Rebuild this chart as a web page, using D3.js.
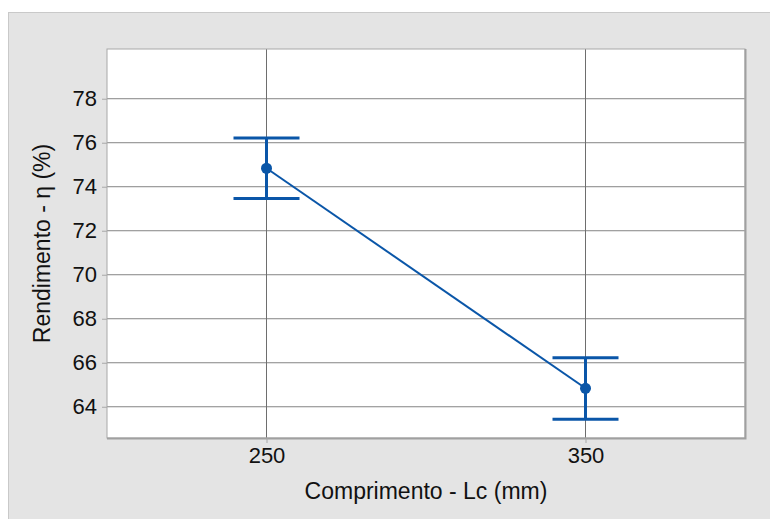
<html lang="en">
<head>
    <meta charset="UTF-8">
    <title>Rendimento x Comprimento</title>
    <script type="text/javascript" src="https://unpkg.com/d3@7/dist/d3.min.js"></script>
    <style>
        body{
            margin:0;
            padding:0;
            background:#fff;
        }
        text {
            font-family: "Liberation Sans", Arial, sans-serif;
            fill: #111;
        }
    </style>
</head>
<body>
<svg width=770 height=519></svg>

<script>

// values
var lengths = [250, 350]
var means = [74.84, 64.84]
var upper = [76.22, 66.23]
var lower = [73.46, 63.43]
var yTicks = [64, 66, 68, 70, 72, 74, 76, 78]

var blue = '#0a56a8'
var plotL = 107, plotR = 745, plotT = 49, plotB = 438

var svg = d3.select('svg')

// grey panel behind everything
svg.append('rect')
    .attr('x', 8.5).attr('y', 12.5)
    .attr('width', 800).attr('height', 600)
    .attr('fill', '#e4e4e4')
    .attr('stroke', '#c9c9c9')

svg.append('rect')
    .attr('x', plotL).attr('y', plotT)
    .attr('width', plotR - plotL).attr('height', plotB - plotT)
    .attr('fill', '#fff')

var x = d3.scaleLinear().domain([200, 400]).range([plotL, plotR])
var y = d3.scaleLinear().domain([62.58, 80.26]).range([plotB, plotT])

// grid
svg.append('g')
    .selectAll('line')
    .data(yTicks)
    .enter()
    .append('line')
    .attr('x1', plotL).attr('x2', plotR)
    .attr('y1', d => y(d)).attr('y2', d => y(d))
    .attr('stroke', '#858585')
svg.append('g')
    .selectAll('line')
    .data(lengths)
    .enter()
    .append('line')
    .attr('x1', d => x(d)).attr('x2', d => x(d))
    .attr('y1', plotT).attr('y2', plotB)
    .attr('stroke', '#6e6e6e')

// frame, right and bottom a bit heavier
svg.append('rect')
    .attr('x', plotL).attr('y', plotT)
    .attr('width', plotR - plotL).attr('height', plotB - plotT)
    .attr('fill', 'none')
    .attr('stroke', '#a8a8a8')
svg.append('path')
    .attr('d', `M${plotR + 0.5},${plotT} V${plotB + 0.5} H${plotL}`)
    .attr('fill', 'none')
    .attr('stroke', '#a0a0a0')
    .attr('stroke-width', 2)

// axes
var yAxis = svg.append('g')
    .attr('transform', `translate(${plotL},0)`)
    .call(d3.axisLeft(y).tickValues(yTicks).tickSize(5).tickPadding(5))
var xAxis = svg.append('g')
    .attr('transform', `translate(0,${plotB})`)
    .call(d3.axisBottom(x).tickValues(lengths).tickSize(5).tickPadding(4))

;[yAxis, xAxis].forEach(a => {
    a.select('.domain').remove()
    a.selectAll('line').attr('stroke', '#a8a8a8')
    a.selectAll('text').style('font-size', '22px').attr('fill', '#111')
})

svg.append('text')
    .attr('x', (plotL + plotR) / 2)
    .attr('y', 499)
    .style('font-size', '23px')
    .style('text-anchor', 'middle')
    .text('Comprimento - Lc (mm)')

svg.append('text')
    .attr('transform', `translate(50,${(plotT + plotB) / 2}) rotate(-90)`)
    .style('font-size', '23px')
    .style('text-anchor', 'middle')
    .text('Rendimento - η (%)')

// error bars
svg.append('g')
    .selectAll('g')
    .data(lengths)
    .enter()
    .append('g')
    .each(function (d, i) {
        var g = d3.select(this)
        g.append('line')
            .attr('x1', x(d)).attr('x2', x(d))
            .attr('y1', y(upper[i])).attr('y2', y(lower[i]))
            .attr('stroke', blue).attr('stroke-width', 3)
        ;[upper[i], lower[i]].forEach(v => {
            g.append('line')
                .attr('x1', x(d) - 33).attr('x2', x(d) + 33)
                .attr('y1', y(v)).attr('y2', y(v))
                .attr('stroke', blue).attr('stroke-width', 3)
        })
    })

var line = d3.line()
    .x((d, i) => x(lengths[i]))
    .y(d => y(d))

svg.append('path')
    .datum(means)
    .attr('d', line)
    .attr('fill', 'none')
    .attr('stroke', blue)
    .attr('stroke-width', 2)

svg.append('g')
    .selectAll('circle')
    .data(means)
    .enter()
    .append('circle')
    .attr('cx', (d, i) => x(lengths[i]))
    .attr('cy', d => y(d))
    .attr('r', 5.5)
    .attr('fill', blue)

</script>
</body>
</html>
